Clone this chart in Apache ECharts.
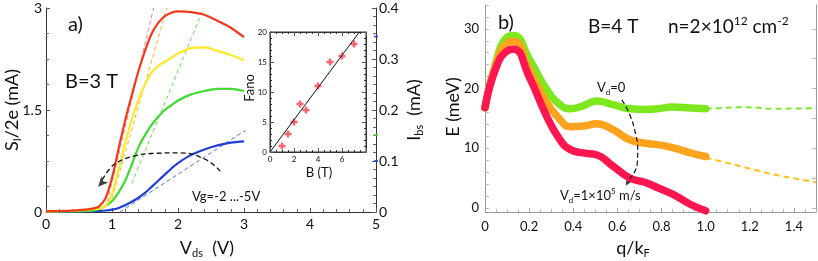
<!DOCTYPE html>
<html><head><meta charset="utf-8">
<script src="https://cdn.jsdelivr.net/npm/echarts@6/dist/echarts.min.js"></script>
<style>html,body{margin:0;padding:0;background:#fff}#c{width:818px;height:261px}</style>
</head><body><div id="c"></div>
<script>
// ---------- Panel a data ----------
const vds = [0,0.2,0.4,0.6,0.7,0.8,0.9,1.0,1.1,1.2,1.3,1.4,1.5,1.6,1.7,1.8,1.9,2.0,2.2,2.4,2.6,2.8,3.0];
const sRed    = [0.01,0.015,0.02,0.035,0.05,0.08,0.2,0.5,0.93,1.35,1.72,2.07,2.37,2.62,2.78,2.88,2.93,2.95,2.94,2.9,2.81,2.71,2.57];
const sYellow = [0.01,0.012,0.018,0.03,0.04,0.05,0.09,0.26,0.63,1.01,1.36,1.65,1.88,2.05,2.15,2.21,2.27,2.33,2.41,2.42,2.37,2.31,2.23];
const sGreen  = [0.005,0.008,0.01,0.015,0.02,0.04,0.09,0.16,0.29,0.46,0.7,0.95,1.13,1.28,1.4,1.5,1.57,1.64,1.73,1.78,1.81,1.81,1.78];
const sBlue   = [0.005,0.006,0.008,0.01,0.012,0.016,0.022,0.035,0.06,0.1,0.15,0.21,0.28,0.37,0.46,0.55,0.64,0.72,0.84,0.92,0.98,1.02,1.04];
const tanRedV = [0.93,1.63], tanRedS = [0.15,3.0];
const tanYelV = [1.0,1.83],  tanYelS = [0.2,3.0];
const tanGrnV = [1.3,2.39],  tanGrnS = [0.42,3.0];
const tanBluV = [1.12,3.02], tanBluS = [0.0,1.2];
const arcAV = [2.64,2.4,2.0,1.6,1.33,1.1,0.97,0.85];
const arcAS = [0.60,0.78,0.87,0.86,0.82,0.74,0.64,0.47];
const arrowA = [0.79,0.37];
const ibsMarks = [0.344,0.151,0.1];
const ibsMarkColors = ['#2040d0','#44dd33','#2040d0'];
// inset
const fanoB = [1,1.5,2,2.5,3,4,5,6,7];
const fanoF = [1,3,5,8,7,11,15,16,18];
const fitB = [0,7.45], fitF = [0,20];
// ---------- Panel b data ----------
const q = [0,0.05,0.1,0.13,0.2,0.28,0.34,0.385,0.445,0.505,0.58,0.656,0.73,0.78,0.85,0.93,1.0];
const eGreen  = [16.8,24.5,28.6,28.9,25,19.8,17.3,16.6,17.1,17.9,17.3,16.6,16.5,16.6,16.9,16.75,16.6];
const eOrange = [16.8,24.0,27.6,27.9,23.2,17.6,14.8,13.6,13.7,14.1,13.1,11.4,10.8,10.6,10.1,9.2,8.6];
const eRed    = [16.8,23.5,26.3,26.6,22.0,15.3,11.4,9.8,9.2,8.9,7.0,5.0,4.2,3.4,2.3,0.6,-0.5];
const qExt = [1.0,1.08,1.154,1.23,1.305,1.4,1.5];
const eGreenExt  = [16.6,16.75,16.85,16.8,16.6,16.65,16.7];
const eYellowExt = [8.4,7.7,7.0,6.3,5.6,4.95,4.3];
const arcBQ = [0.62,0.656,0.683,0.692,0.69,0.675,0.655];
const arcBE = [18.1,15.6,12.3,9.8,7.5,5.8,4.9];
const arrowB = [0.638,3.7];
const yLabelsB = [0,10,20,30];

const zip = (a,b)=>a.map((v,i)=>[v,b[i]]);
const FF = 'Lato, "Open Sans", sans-serif';
const chart = echarts.init(document.getElementById('c'), null, {renderer:'canvas'});

function ax(o){ return Object.assign({type:'value', splitLine:{show:false}, axisLine:{onZero:false, lineStyle:{color:'#333'}}, axisTick:{inside:true,length:4,lineStyle:{color:'#555'}}, axisLabel:{color:'#111', fontFamily:FF}}, o); }

const option = {
  animation:false,
  grid:[
    {left:46, top:8, width:330, height:204},
    {left:270, top:32, width:96, height:120, show:true, borderColor:'#333', borderWidth:1, backgroundColor:'rgba(0,0,0,0)'},
    {left:485, top:5, width:331, height:207}
  ],
  xAxis:[
    ax({gridIndex:0, min:0, max:5, interval:1, minorTick:{show:true,splitNumber:5,length:3,lineStyle:{color:'#666'}}, axisLabel:{fontSize:14,margin:5,color:'#111',fontFamily:FF}}),
    ax({gridIndex:1, min:0, max:8, interval:2, minorTick:{show:true,splitNumber:4,length:2}, axisLabel:{fontSize:8,margin:3,showMaxLabel:false,color:'#111',fontFamily:FF}}),
    ax({gridIndex:1, position:'top', min:0, max:8, interval:2, minorTick:{show:true,splitNumber:4,length:2}, axisLabel:{show:false}}),
    ax({gridIndex:2, min:0, max:1.5, interval:0.2, axisLine:{onZero:false,lineStyle:{color:'#999'}}, axisTick:{inside:true,length:4,lineStyle:{color:'#aaa'}}, minorTick:{show:true,splitNumber:4,length:3,lineStyle:{color:'#bbb'}}, axisLabel:{fontSize:13,margin:8,showMaxLabel:false,color:'#111',fontFamily:FF,formatter:v=>v===0?'0':v.toFixed(1)}})
  ],
  yAxis:[
    ax({gridIndex:0, min:0, max:3, interval:1.5, minorTick:{show:true,splitNumber:4,length:3,lineStyle:{color:'#666'}}, axisLabel:{fontSize:14,margin:4,color:'#111',fontFamily:FF}}),
    ax({gridIndex:0, position:'right', min:0, max:0.4, interval:0.1, minorTick:{show:true,splitNumber:6,length:3,lineStyle:{color:'#666'}}, axisLabel:{fontSize:14,margin:3,color:'#111',fontFamily:FF,formatter:v=>v===0?'0':v.toFixed(1)}}),
    ax({gridIndex:1, min:0, max:20, interval:5, minorTick:{show:true,splitNumber:5,length:2}, axisLabel:{fontSize:8,margin:3,color:'#111',fontFamily:FF}}),
    ax({gridIndex:1, position:'right', min:0, max:20, interval:5, minorTick:{show:true,splitNumber:5,length:2}, axisLabel:{show:false}}),
    ax({gridIndex:2, min:-0.7, max:34, axisLine:{onZero:false,lineStyle:{color:'#999'}}, axisTick:{inside:true,length:4,lineStyle:{color:'#bbb'},customValues:[0,2,4,6,8,10,12,14,16,18,20,22,24,26,28,30,32,34]}, axisLabel:{fontSize:13,margin:6,color:'#111',fontFamily:FF,customValues:yLabelsB}}),
    ax({gridIndex:2, position:'right', min:-0.7, max:34, axisLine:{onZero:false,lineStyle:{color:'#999'}}, axisTick:{inside:true,length:4,lineStyle:{color:'#bbb'},customValues:[0,5,10,15,20,25,30]}, axisLabel:{show:false}})
  ],
  series:[
    {type:'line', xAxisIndex:0, yAxisIndex:0, data:zip(tanRedV,tanRedS), showSymbol:false, lineStyle:{color:'#ff7a7a',width:1,type:[4,3]}},
    {type:'line', xAxisIndex:0, yAxisIndex:0, data:zip(tanYelV,tanYelS), showSymbol:false, lineStyle:{color:'#ffb020',width:1,type:[4,3]}},
    {type:'line', xAxisIndex:0, yAxisIndex:0, data:zip(tanGrnV,tanGrnS), showSymbol:false, lineStyle:{color:'#66dd55',width:1,type:[4,3]}},
    {type:'line', xAxisIndex:0, yAxisIndex:0, data:zip(tanBluV,tanBluS), showSymbol:false, lineStyle:{color:'#5070ee',width:1,type:[4,3]}},
    {type:'line', xAxisIndex:0, yAxisIndex:0, data:zip(vds,sBlue), showSymbol:false, smooth:0.3, lineStyle:{color:'#1f3fd8',width:2.2}},
    {type:'line', xAxisIndex:0, yAxisIndex:0, data:zip(vds,sGreen), showSymbol:false, smooth:0.3, lineStyle:{color:'#3fdc2f',width:2.2}},
    {type:'line', xAxisIndex:0, yAxisIndex:0, data:zip(vds,sYellow), showSymbol:false, smooth:0.3, lineStyle:{color:'#ffe82a',width:2.2}},
    {type:'line', xAxisIndex:0, yAxisIndex:0, data:zip(vds,sRed), showSymbol:false, smooth:0.3, lineStyle:{color:'#f3391c',width:2.2}},
    {type:'line', xAxisIndex:0, yAxisIndex:0, data:zip(arcAV,arcAS), showSymbol:false, smooth:0.5, lineStyle:{color:'#111',width:1.3,type:[5,3]}},
    {type:'scatter', xAxisIndex:0, yAxisIndex:0, data:[arrowA], symbol:'arrow', symbolSize:[7,10], symbolRotate:138, itemStyle:{color:'#111'}},
    {type:'scatter', xAxisIndex:0, yAxisIndex:1, data:ibsMarks.map((v,i)=>({value:[5,v],itemStyle:{color:ibsMarkColors[i]}})), symbol:'rect', symbolSize:[4,2], clip:false},
    {type:'line', xAxisIndex:1, yAxisIndex:2, data:zip(fitB,fitF), showSymbol:false, lineStyle:{color:'#111',width:1}},
    {type:'scatter', xAxisIndex:1, yAxisIndex:2, data:zip(fanoB,fanoF), symbol:'path://M2,0H4V2H6V4H4V6H2V4H0V2H2Z', symbolSize:7, itemStyle:{color:'#ff3a4a'}},
    {type:'line', xAxisIndex:3, yAxisIndex:4, data:zip(qExt,eGreenExt), showSymbol:false, smooth:0.4, lineStyle:{color:'#7fe82a',width:2,type:[6,4]}},
    {type:'line', xAxisIndex:3, yAxisIndex:4, data:zip(qExt,eYellowExt), showSymbol:false, smooth:0.4, lineStyle:{color:'#ffc21a',width:2,type:[6,4]}},
    {type:'line', xAxisIndex:3, yAxisIndex:4, data:zip(q,eGreen), showSymbol:false, smooth:0.5, clip:false, lineStyle:{color:'#7de81e',width:7.5,cap:'round'}},
    {type:'line', xAxisIndex:3, yAxisIndex:4, data:zip(q,eOrange), showSymbol:false, smooth:0.5, clip:false, lineStyle:{color:'#ffa21c',width:7.5,cap:'round'}},
    {type:'line', xAxisIndex:3, yAxisIndex:4, data:zip(q,eRed), showSymbol:false, smooth:0.5, clip:false, lineStyle:{color:'#ff1550',width:7.5,cap:'round'}},
    {type:'line', xAxisIndex:3, yAxisIndex:4, data:zip(arcBQ,arcBE), showSymbol:false, smooth:0.5, lineStyle:{color:'#111',width:1.2,type:[5,3]}},
    {type:'scatter', xAxisIndex:3, yAxisIndex:4, data:[arrowB], symbol:'arrow', symbolSize:[7,10], symbolRotate:150, itemStyle:{color:'#111'}}
  ],
  graphic:[]
};

const T = (x,y,text,size,extra)=>Object.assign({type:'text', x:x, y:y, z:100, style:Object.assign({text:text, fontSize:size, fontFamily:FF, fill:'#111', align:'left', verticalAlign:'middle'}, extra||{})});
const rich = (s)=>({
  m:{fontSize:s, fontFamily:FF, lineHeight:s+4, fill:'#111'},
  sub:{fontSize:Math.round(s*0.62), fontFamily:FF, lineHeight:Math.round(s*0.62), verticalAlign:'bottom', fill:'#111'},
  sup:{fontSize:Math.round(s*0.62), fontFamily:FF, lineHeight:Math.round(s*0.62), verticalAlign:'top', fill:'#111'}
});
option.graphic = [
  T(68,25,'a)',20),
  T(65,82,'B=3 T',20),
  T(192,197,'Vg=-2 ...-5V',13),
  Object.assign(T(12,110,'',18,{text:'{m|S}{sub|I}{m|/2e (mA)}', rich:rich(18), align:'center'}),{rotation:Math.PI/2}),
  Object.assign(T(414,110,'',18,{text:'{m|I}{sub|bs}{m|  (mA)}', rich:rich(18), align:'center'}),{rotation:Math.PI/2}),
  T(207,248,'',18,{text:'{m|V}{sub|ds}{m|  (V)}', rich:rich(18), align:'center'}),
  Object.assign(T(250,88,'Fano',13,{align:'center'}),{rotation:Math.PI/2}),
  T(319,173,'B (T)',13,{align:'center'}),
  T(498,23,'b)',20),
  T(588,27,'B=4 T',19),
  T(668,27,'',19,{text:'{m|n=2×10}{sup|12}{m| cm}{sup|-2}', rich:rich(19)}),
  T(597,88,'',13,{text:'{m|V}{sub|d}{m|=0}', rich:rich(13)}),
  T(560,196,'',13,{text:'{m|V}{sub|d}{m|=1×10}{sup|5}{m| m/s}', rich:rich(13)}),
  Object.assign(T(453,107,'E (meV)',18,{align:'center'}),{rotation:Math.PI/2}),
  T(633,248,'',18,{text:'{m|q/k}{sub|F}', rich:rich(18), align:'center'})
];
chart.setOption(option);
</script></body></html>
